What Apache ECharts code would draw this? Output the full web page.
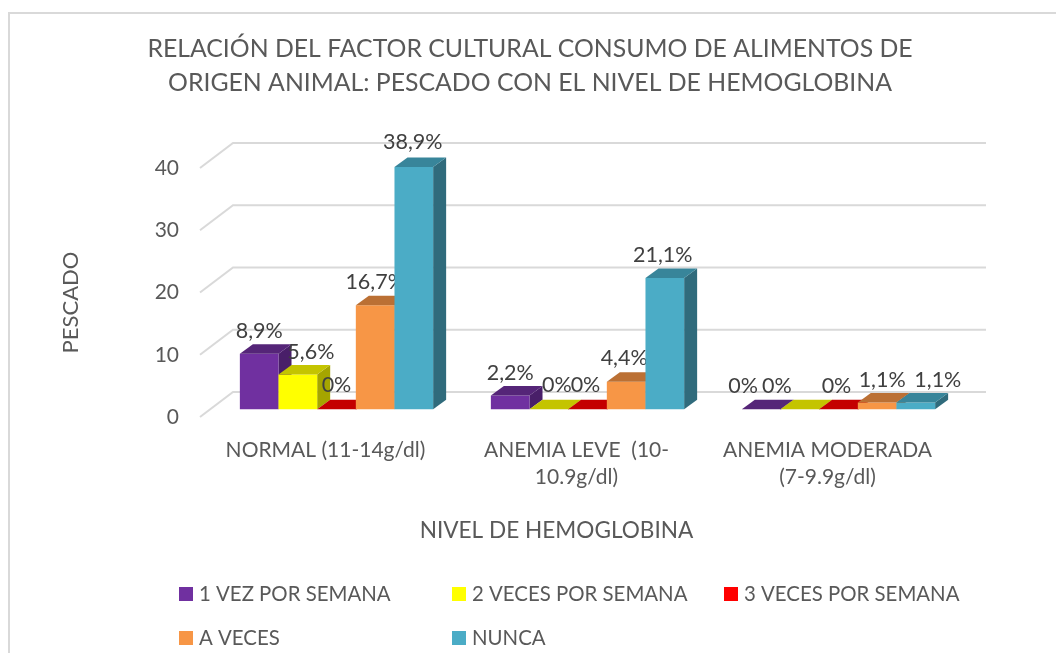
<!DOCTYPE html>
<html>
<head>
<meta charset="utf-8">
<style>html,body{margin:0;padding:0;background:#fff}#c{width:1056px;height:653px}</style>
<script src="https://cdn.jsdelivr.net/npm/echarts@6/dist/echarts.min.js"></script>
</head>
<body>
<div id="c"></div>
<script>
const chartTitle = 'RELACIÓN DEL FACTOR CULTURAL CONSUMO DE ALIMENTOS DE\nORIGEN ANIMAL: PESCADO CON EL NIVEL DE HEMOGLOBINA';
const xTitle = 'NIVEL DE HEMOGLOBINA';
const yTitle = 'PESCADO';
const categories = ['NORMAL (11-14g/dl)', 'ANEMIA LEVE  (10-\n10.9g/dl)', 'ANEMIA MODERADA\n(7-9.9g/dl)'];
const yTicks = [0, 10, 20, 30, 40];
const seriesNames = ['1 VEZ POR SEMANA', '2 VECES POR SEMANA', '3 VECES POR SEMANA', 'A VECES', 'NUNCA'];
const vez1 = [8.9, 2.2, 0];
const veces2 = [5.6, 0, 0];
const veces3 = [0, 0, 0];
const aVeces = [16.7, 4.4, 1.1];
const nunca = [38.9, 21.1, 1.1];
const seriesValues = [vez1, veces2, veces3, aVeces, nunca];

// styling, kept apart from the data
const faces = [
  {front: '#7030a0', top: '#552578', side: '#491f69'},
  {front: '#ffff00', top: '#c4c400', side: '#a5a500'},
  {front: '#ff0000', top: '#c40000', side: '#a50000'},
  {front: '#f79646', top: '#bb7034', side: '#9d5e2c'},
  {front: '#4bacc6', top: '#38859a', side: '#306b7c'}
];
const labelNudge = [
  [[0, -23], [0, -22.5], [-18, -23.5]],
  [[13, -22], [8, -24.5], [-23, -23.5]],
  [[0, -24], [-2, -24.5], [-2, -23.5]],
  [[0, -23.5], [-2, -24], [5, -22.5]],
  [[-1, -25.5], [-2, -22.5], [22, -22.5]]
];
const legendPos = [[179, 584], [452, 584], [724, 584], [179, 628], [452, 628]];
const wallDx = 33, wallDy = 25, barOffX = 11, barOffY = 7.75, depthX = 13, depthY = 9.5, barShare = 0.154;
const font = 'Lato';

function fmt(v) { return String(v).replace('.', ',') + '%'; }

function wallRender(params, api) {
  const cs = params.coordSys;
  const y = api.coord([0, api.value(1)])[1];
  return {
    type: 'polyline',
    shape: {points: [[cs.x, y], [cs.x + wallDx, y - wallDy], [cs.x + cs.width + wallDx, y - wallDy]]},
    style: {stroke: '#d9d9d9', lineWidth: 2, fill: null}
  };
}

function barRender(si) {
  return function (params, api) {
    const ci = api.value(0), v = api.value(1);
    const p = api.coord([ci, v]), p0 = api.coord([ci, 0]);
    const w = api.size([1, 0])[0] * barShare;
    const x = p[0] + barOffX + (si - 2.5) * w;
    const yt = p[1] - barOffY, yb = p0[1] - barOffY;
    const f = faces[si];
    const n = labelNudge[si][ci];
    const kids = [];
    if (yb - yt > 0.01) {
      kids.push({type: 'polygon', shape: {points: [[x + w, yt], [x + w + depthX, yt - depthY], [x + w + depthX, yb - depthY], [x + w, yb]]}, style: {fill: f.side}});
      kids.push({type: 'rect', shape: {x: x, y: yt, width: w, height: yb - yt}, style: {fill: f.front}});
    } else {
      kids.push({type: 'polygon', shape: {points: [[x + w, yt], [x + w + depthX, yt - depthY], [x + w + depthX, yt - depthY + 0.5], [x + w, yt + 0.5]]}, style: {fill: f.side}});
    }
    kids.push({type: 'polygon', shape: {points: [[x, yt], [x + depthX, yt - depthY], [x + w + depthX, yt - depthY], [x + w, yt]]}, style: {fill: f.top}});
    kids.push({
      type: 'text', z2: 100,
      style: {x: x + w / 2 + n[0], y: yt + n[1], text: fmt(v), align: 'center', verticalAlign: 'middle', fill: '#404040', font: '21.5px ' + font}
    });
    return {type: 'group', children: kids};
  };
}

const chart = echarts.init(document.getElementById('c'), null, {renderer: 'canvas'});
chart.setOption({
  animation: false,
  backgroundColor: '#fff',
  title: {
    text: chartTitle, left: 525, top: 27, textAlign: 'center',
    textStyle: {fontFamily: font, fontSize: 24.8, fontWeight: 'normal', color: '#595959', lineHeight: 34}
  },
  grid: {left: 200, top: 168, width: 753, height: 249},
  xAxis: {
    type: 'category', data: categories,
    axisLine: {show: false}, axisTick: {show: false},
    axisLabel: {fontFamily: font, fontSize: 21, color: '#595959', margin: 20, lineHeight: 27, interval: 0},
    name: xTitle, nameLocation: 'middle', nameGap: 102,
    nameTextStyle: {fontFamily: font, fontSize: 22.6, color: '#595959', padding: [0, 40, 0, 0]}
  },
  yAxis: {
    type: 'value', min: 0, max: 40, interval: 10,
    axisLine: {show: false}, axisTick: {show: false}, splitLine: {show: false},
    axisLabel: {fontFamily: font, fontSize: 21, color: '#595959', margin: 21, padding: [12, 0, 0, 0]},
    name: yTitle, nameLocation: 'middle', nameGap: 118, nameRotate: 90,
    nameTextStyle: {fontFamily: font, fontSize: 22, color: '#595959', padding: [0, 20, 0, 0]}
  },
  legend: seriesNames.map((nm, i) => ({
    data: [nm], left: legendPos[i][0], top: legendPos[i][1], padding: 0,
    itemWidth: 14, itemHeight: 14, icon: 'rect',
    textStyle: {fontFamily: font, fontSize: 20.4, color: '#595959', padding: [0, 0, 0, 1]},
    selectedMode: false
  })),
  graphic: [
    {type: 'polyline', silent: true, shape: {points: [[9, 653], [9, 13], [1056, 13]]}, style: {stroke: '#d9d9d9', lineWidth: 2, fill: null}}
  ],
  series: [
    {name: 'grid', type: 'custom', coordinateSystem: 'cartesian2d', clip: false, silent: true, renderItem: wallRender,
     encode: {x: 0, y: 1}, data: yTicks.map(t => [0, t]), z: 1}
  ].concat(seriesNames.map((nm, si) => ({
    name: nm, type: 'custom', coordinateSystem: 'cartesian2d', clip: false,
    renderItem: barRender(si), encode: {x: 0, y: 1},
    itemStyle: {color: faces[si].front},
    data: seriesValues[si].map((v, ci) => [ci, v]), z: 2 + si
  })))
});
</script>
</body>
</html>
